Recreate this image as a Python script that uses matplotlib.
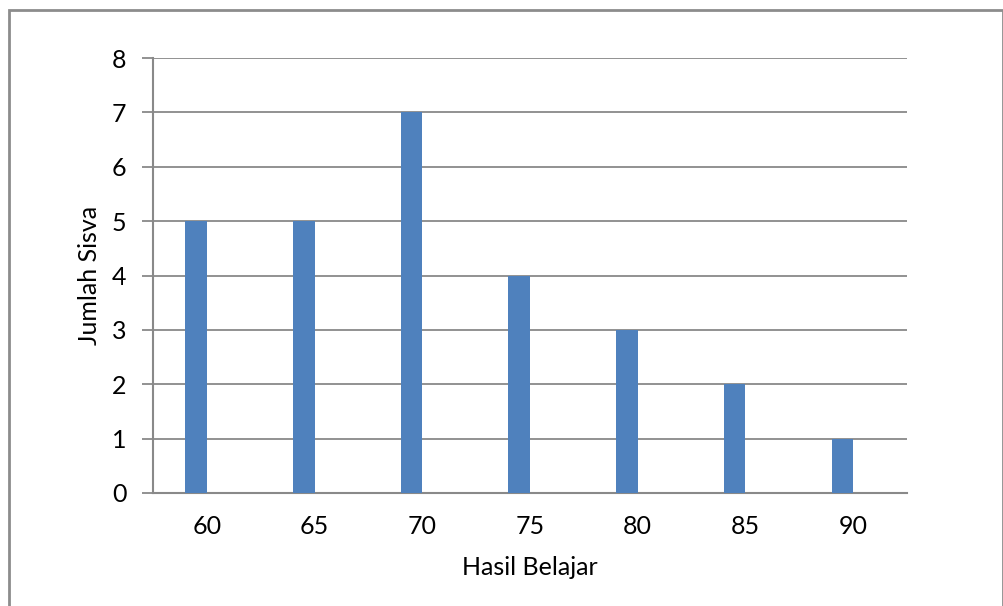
import matplotlib
matplotlib.use("Agg")
import matplotlib.pyplot as plt
from matplotlib.patches import Rectangle
import numpy as np

categories = ["60", "65", "70", "75", "80", "85", "90"]
values = [5, 5, 7, 4, 3, 2, 1]
yticks = [0, 1, 2, 3, 4, 5, 6, 7, 8]

plt.rcParams['font.family'] = ['Lato', 'DejaVu Sans']

W, H = 1004, 606
fig = plt.figure(figsize=(W / 100, H / 100), dpi=100)
ax = fig.add_axes([153 / W, 1 - 493 / H, (907 - 153) / W, (493 - 58) / H])

x = np.arange(len(categories))
ax.bar(x - 0.1, values, width=0.2, color="#4F81BD", zorder=3)
ax.set_xlim(-0.5, len(categories) - 0.5)
ax.set_ylim(0, 8)
ax.set_yticks(yticks)
ax.set_xticks(x)
ax.set_xticklabels(categories)

grid_c = "#898989"
ax.yaxis.grid(True, color=grid_c, linewidth=1.3, zorder=0)
for s in ["top", "right"]:
    ax.spines[s].set_visible(False)
for s in ["left", "bottom"]:
    ax.spines[s].set_color(grid_c)
    ax.spines[s].set_linewidth(1.5)
ax.tick_params(axis="y", length=8, color=grid_c, width=1.3, labelsize=18, pad=11)
ax.tick_params(axis="x", length=0, labelsize=18, pad=16)

ax.set_xlabel("Hasil Belajar", fontsize=18)
ax.set_ylabel("Jumlah Sisva", fontsize=18)
ax.xaxis.set_label_coords(0.5, -(556 - 493) / 435)
ax.yaxis.set_label_coords((101 - 153) / 754, 0.5)

fig.patches.append(Rectangle((9 / W, -0.1), (1003 - 9) / W, 1.1 - 10 / H,
                             transform=fig.transFigure, fill=False,
                             edgecolor="#8c8c8c", linewidth=2))

fig.savefig("out.png", dpi=100)
